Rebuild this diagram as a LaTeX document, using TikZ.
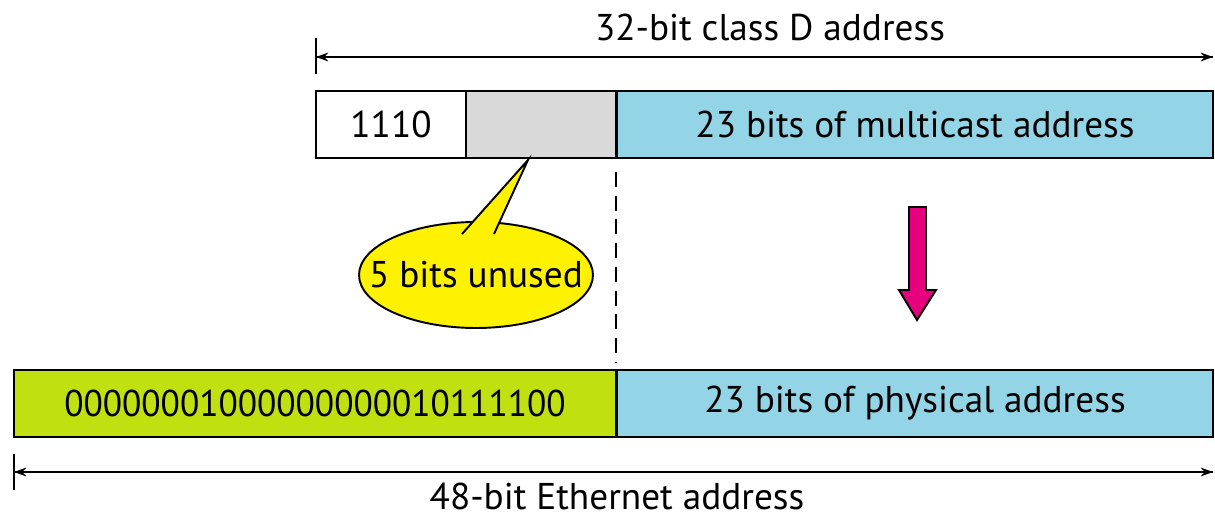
\documentclass[tikz,border=0pt]{standalone}
\usepackage{fontspec}
\setmainfont{PT Sans}
\usetikzlibrary{arrows.meta,shapes.geometric}
\definecolor{cblue}{HTML}{93D5E6}
\definecolor{cgrey}{HTML}{D9D9D9}
\definecolor{cgreen}{HTML}{C1E00F}
\definecolor{cyel}{HTML}{FFF200}
\definecolor{cpink}{HTML}{E6007E}
\begin{document}
\begin{tikzpicture}[x=0.02cm,y=-0.02cm,
  field/.style={draw=black,line width=1.1pt,minimum height=1.34cm,inner sep=0pt,font=\fontsize{21.2}{25}\selectfont},
  dim/.style={line width=0.8pt,-{Stealth[length=7pt,width=5pt]}},
  tick/.style={line width=0.8pt},
  lbl/.style={font=\fontsize{21.2}{25}\selectfont,inner sep=0pt}]
\useasboundingbox (0,0) rectangle (1215,517);
% top row
\node[field,minimum width=3cm] (f1110) at (391,124.5) {1110};
\node[field,fill=cgrey,minimum width=3cm] (fgrey) at (541,124.5) {};
\node[field,fill=cblue,minimum width=11.94cm] (fmc) at (915,124.5) {23 bits of multicast address};
% bottom row
\node[field,fill=cgreen,minimum width=12.04cm] (fgreen) at (315,403.5) {\scalebox{0.95}[1]{00000001000000000010111100}};
\node[field,fill=cblue,minimum width=11.94cm] (fphy) at (915,403.5) {23 bits of physical address};
% top dimension
\coordinate (tl) at (316,57); \coordinate (tr) at (1213,57);
\draw[tick] (316,38) -- (316,74);
\draw[dim] (tl) -- (tr);
\draw[dim] (tr) -- (tl);
\node[lbl] (ttop) at (770,27) {32-bit class D address};
% bottom dimension
\coordinate (bl) at (14,472); \coordinate (br) at (1213,472);
\draw[tick] (14,454) -- (14,490);
\draw[dim] (bl) -- (br);
\draw[dim] (br) -- (bl);
\node[lbl] (tbot) at (617,496) {48-bit Ethernet address};
% dashed line
\coordinate (d1) at (616,172); \coordinate (d2) at (616,362);
\draw[line width=1.1pt,dash pattern=on 8.5pt off 5pt] (d1) -- (d2);
% callout
\node[ellipse,draw=black,line width=1.1pt,fill=cyel,minimum width=4.68cm,minimum height=2.12cm,inner sep=0pt] (callout) at (476,275) {};
\coordinate (ctip) at (528,160);
\draw[line width=1.1pt,fill=cyel] (462,234) -- (ctip) -- (494,234);
\node[lbl] (ctext) at (callout.center) {5 bits unused};
% pink arrow
\draw[line width=1.1pt,fill=cpink] (909,207) -- (926,207) -- (926,290) -- (936,290) -- (917,320) -- (899,290) -- (909,290) -- cycle;
\end{tikzpicture}
\end{document}
